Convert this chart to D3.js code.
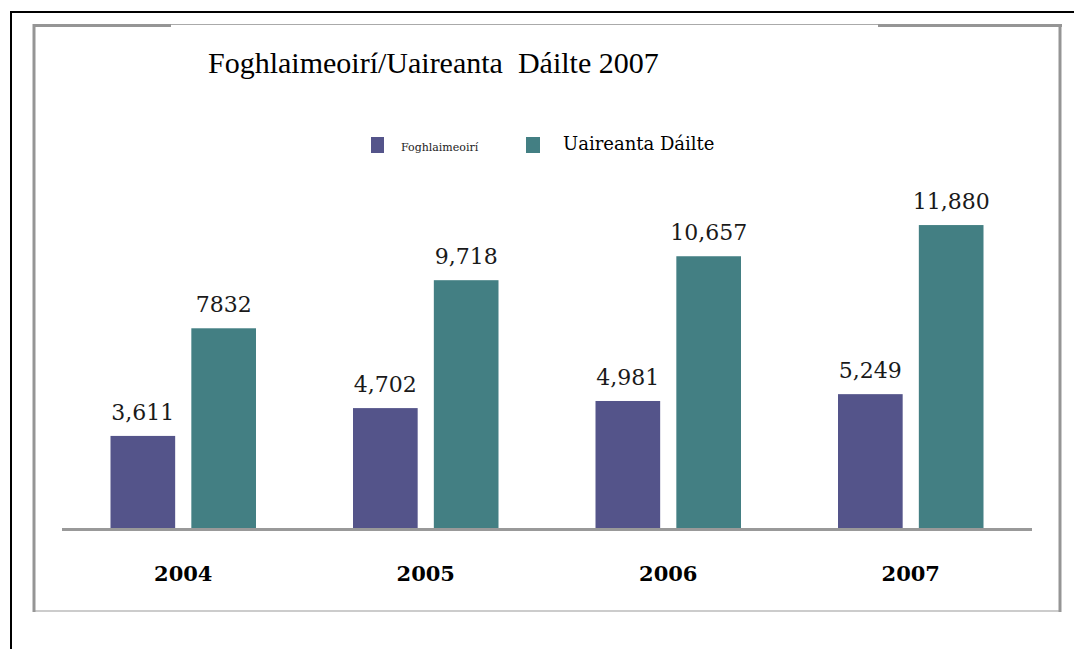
<!DOCTYPE html>
<html>
<head>
<meta charset="utf-8">
<script src="https://cdn.jsdelivr.net/npm/d3@7"></script>
<style>
  body { margin: 0; background: #fff; }
  svg { display: block; }
</style>
</head>
<body>
<div id="root"></div>
<script>
// data
const years = ["2004", "2005", "2006", "2007"]
const seriesNames = ["Foghlaimeoirí", "Uaireanta Dáilte"]
const learners = [3611, 4702, 4981, 5249]
const hours = [7832, 9718, 10657, 11880]
const valueLabels = [
    ["3,611", "4,702", "4,981", "5,249"],
    ["7832", "9,718", "10,657", "11,880"]
]
const colors = ["#54548a", "#437f83"]

const w = 1074, h = 649
const times = "'Liberation Serif', serif"
const georgia = "'DejaVu Serif', serif"

const svg = d3.select("#root").append("svg")
    .attr("width", w)
    .attr("height", h)

// outer black frame (top + left only)
svg.append("line").attr("x1", 10).attr("x2", w).attr("y1", 12).attr("y2", 12)
    .attr("stroke", "#000").attr("stroke-width", 2)
svg.append("line").attr("x1", 11).attr("x2", 11).attr("y1", 11).attr("y2", h)
    .attr("stroke", "#000").attr("stroke-width", 2)

// inner gray box
const gray = "#959595"
svg.append("line").attr("x1", 34).attr("x2", 34).attr("y1", 24).attr("y2", 612)
    .attr("stroke", gray).attr("stroke-width", 3)
svg.append("line").attr("x1", 1060).attr("x2", 1060).attr("y1", 24).attr("y2", 612)
    .attr("stroke", gray).attr("stroke-width", 3)
svg.append("line").attr("x1", 33).attr("x2", 171).attr("y1", 25.5).attr("y2", 25.5)
    .attr("stroke", gray).attr("stroke-width", 3)
svg.append("line").attr("x1", 171).attr("x2", 878).attr("y1", 24.5).attr("y2", 24.5)
    .attr("stroke", "#aaa").attr("stroke-width", 1)
svg.append("line").attr("x1", 878).attr("x2", 1062).attr("y1", 25.5).attr("y2", 25.5)
    .attr("stroke", gray).attr("stroke-width", 3)
svg.append("line").attr("x1", 33).attr("x2", 1061).attr("y1", 611).attr("y2", 611)
    .attr("stroke", "#999").attr("stroke-width", 1.2)

// title
svg.append("text")
    .attr("x", 208).attr("y", 73)
    .style("font-family", times)
    .style("font-size", "30px")
    .attr("xml:space", "preserve")
    .text("Foghlaimeoirí/Uaireanta  Dáilte 2007")

// legend
const legend = svg.append("g")
legend.append("rect").attr("x", 371).attr("y", 137).attr("width", 13).attr("height", 16).attr("fill", colors[0])
legend.append("text").attr("x", 401).attr("y", 151)
    .style("font-family", georgia).style("font-size", "11px").attr("fill", "#222")
    .text(seriesNames[0])
legend.append("rect").attr("x", 526).attr("y", 137).attr("width", 14).attr("height", 16).attr("fill", colors[1])
legend.append("text").attr("x", 563).attr("y", 150)
    .style("font-family", georgia).style("font-size", "18px")
    .text(seriesNames[1])

// scales
const x0 = d3.scaleBand()
    .domain(years)
    .range([62, 1032])
    .paddingInner(0.4)
    .paddingOuter(0.2)

const x1 = d3.scaleBand()
    .domain([0, 1])
    .range([0, x0.bandwidth()])
    .paddingInner(0.2)

const y = d3.scaleLinear()
    .domain([0, 12000])
    .range([528, 222])

const rows = years.map((yr, i) => ({year: yr, values: [learners[i], hours[i]], labels: [valueLabels[0][i], valueLabels[1][i]]}))

const groups = svg.selectAll("g.group").data(rows).enter().append("g")
    .classed("group", true)
    .attr("transform", d => `translate(${x0(d.year)},0)`)

groups.selectAll("rect").data(d => d.values.map((v, s) => ({s, v}))).enter().append("rect")
    .attr("x", d => x1(d.s))
    .attr("width", x1.bandwidth())
    .attr("y", d => y(d.v))
    .attr("height", d => y(0) - y(d.v))
    .attr("fill", d => colors[d.s])

groups.selectAll("text.val").data(d => d.values.map((v, s) => ({s, v, label: d.labels[s]}))).enter().append("text")
    .classed("val", true)
    .attr("x", d => x1(d.s) + x1.bandwidth() / 2)
    .attr("y", d => y(d.v) - 16)
    .attr("text-anchor", "middle")
    .style("font-family", georgia)
    .style("font-size", "22px")
    .attr("fill", "#1a1a1a")
    .text(d => d.label)

// baseline axis
svg.append("line")
    .attr("x1", 62).attr("x2", 1032)
    .attr("y1", y(0) + 1.5).attr("y2", y(0) + 1.5)
    .attr("stroke", "#999").attr("stroke-width", 3)

// year labels
svg.selectAll("text.year").data(years).enter().append("text")
    .classed("year", true)
    .attr("x", d => x0(d) + x0.bandwidth() / 2)
    .attr("y", 581)
    .attr("text-anchor", "middle")
    .style("font-family", georgia)
    .style("font-size", "21px")
    .style("font-weight", "bold")
    .text(d => d)
</script>
</body>
</html>
